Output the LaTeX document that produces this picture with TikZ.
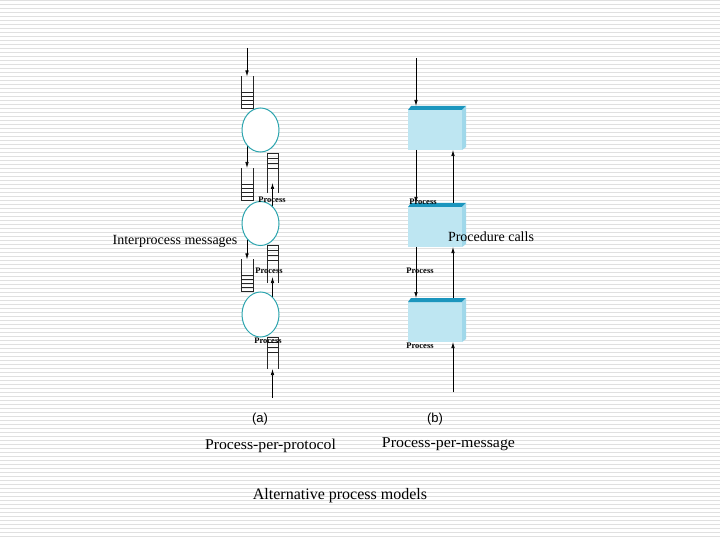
\documentclass[tikz,border=0pt]{standalone}
\usepackage{fontspec}
\setmainfont{Liberation Serif}
\newfontfamily\arialf{Liberation Sans}
\usetikzlibrary{shapes.geometric,arrows.meta,calc}
\definecolor{stripec}{RGB}{224,224,224}
\definecolor{circc}{RGB}{45,165,175}
\definecolor{frontc}{RGB}{190,230,242}
\definecolor{topc}{RGB}{28,150,190}
\definecolor{sidec}{RGB}{160,216,234}
\begin{document}
\begin{tikzpicture}[x=1bp,y=-1bp,
  arr/.style={draw=black,line width=0.7bp,-{Latex[length=6bp,width=3.5bp]}},
  qline/.style={line width=0.8bp,draw=black!85},
  lq/.style={minimum width=12bp,minimum height=32bp,inner sep=0,outer sep=0},
  rq/.style={minimum width=11bp,inner sep=0,outer sep=0},
  proc/.style={ellipse,minimum width=37bp,minimum height=44bp,inner sep=0,draw=circc,fill=white,line width=1bp},
  front/.style={rectangle,minimum width=54bp,minimum height=40bp,inner sep=0,outer sep=0,fill=frontc},
  plabel/.style={font=\fontsize{8.5bp}{9bp}\selectfont\bfseries,inner sep=0},
  big/.style={font=\fontsize{#1}{#1}\selectfont,inner sep=0}]
\useasboundingbox (0,0) rectangle (720,540);
\fill[white] (0,0) rectangle (720,540);
\foreach \i in {0,...,134} \draw[stripec,line width=1bp] (0,\i*4+0.5) -- (720,\i*4+0.5);

% ---- left column: queues
\node[lq] (q1) at (247,92.5) {};
\node[lq] (q2) at (247,184) {};
\node[lq] (q3) at (247,275.5) {};
\node[rq,minimum height=40bp] (r1) at (272.5,173) {};
\node[rq,minimum height=38bp] (r2) at (272.5,264) {};
\node[rq,minimum height=32bp] (r3) at (272.5,353) {};
\foreach \q in {q1,q2,q3}{
  \draw[qline] (\q.north west) -- (\q.south west) -- (\q.south east) -- (\q.north east);
  \foreach \k in {1,2,3,4} \draw[qline] ([yshift=\k*4bp]\q.south west) -- ([yshift=\k*4bp]\q.south east);
}
\foreach \q in {r1,r2,r3}{
  \draw[qline] (\q.south west) -- (\q.north west) -- (\q.north east) -- (\q.south east);
  \foreach \k in {1,2,3} \draw[qline] ([yshift=-\k*5bp]\q.north west) -- ([yshift=-\k*5bp]\q.north east);
}
% circle positions
\coordinate (c1p) at (260.5,130);
\coordinate (c2p) at (260.5,223.5);
\coordinate (c3p) at (260.5,314.5);
\coordinate (ain) at (247,48);
\coordinate (rin) at (272.5,398);
\draw[arr] (ain) -- (q1.north);
\draw[arr] (c1p -| q2.north) -- (q2.north);
\draw[arr] (c2p -| q3.north) -- (q3.north);
\draw[arr] (c2p -| r1.south) -- ($(r1.south)+(0,-10)$);
\draw[arr] (c3p -| r2.south) -- ($(r2.south)+(0,-6)$);
\draw[arr] (rin) -- (r3.south);
\node[proc] (c1) at (c1p) {};
\node[proc] (c2) at (c2p) {};
\node[proc,minimum height=45bp] (c3) at (c3p) {};

% ---- right column: boxes
\node[front] (b1) at (435,130) {};
\node[front] (b2) at (435,227) {};
\node[front] (b3) at (435,322) {};
\foreach \b in {b1,b2,b3}{
  \fill[topc] (\b.north west) -- ++(3,-4) -- ($(\b.north east)+(4,-4)$) -- (\b.north east) -- cycle;
  \fill[sidec] (\b.north east) -- ++(4,-4) -- ++(0,41) -- (\b.south east) -- cycle;
}
\coordinate (bin) at (416,58);
\coordinate (bup) at (453,392);
\draw[arr] (bin) -- ($(bin |- b1.north)+(0,-4)$);
\draw[arr] (bin |- b1.south) -- ($(bin |- b2.north)+(0,-4)$);
\draw[arr] (bin |- b2.south) -- ($(bin |- b3.north)+(0,-4)$);
\draw[arr] ($(bup |- b2.north)+(0,-4)$) -- (bup |- b1.south);
\draw[arr] ($(bup |- b3.north)+(0,-4)$) -- (bup |- b2.south);
\draw[arr] (bup) -- (bup |- b3.south);

% ---- small labels
\node[plabel] (p1) at (272,200) {Process};
\node[plabel] (p2) at (269,270.5) {Process};
\node[plabel] (p3) at (268,340.5) {Process};
\node[plabel] (p4) at (423,202) {Process};
\node[plabel] (p5) at (420,270.5) {Process};
\node[plabel] (p6) at (420,345.5) {Process};

% ---- texts
\node[big=14bp] (t1) at (175,241) {Interprocess messages};
\node[big=14bp] (t2) at (491,237) {Procedure calls};
\node[big=13bp,font=\arialf\fontsize{13bp}{13bp}\selectfont] (ta) at (260,419.5) {(a)};
\node[big=13bp,font=\arialf\fontsize{13bp}{13bp}\selectfont] (tb) at (435,419.5) {(b)};
\node[big=15bp,xscale=1.05] (t3) at (270.5,446) {Process-per-protocol};
\node[big=15bp,xscale=1.06] (t4) at (448.5,444) {Process-per-message};
\node[big=16bp] (t5) at (340,496) {Alternative process models};
\end{tikzpicture}
\end{document}
